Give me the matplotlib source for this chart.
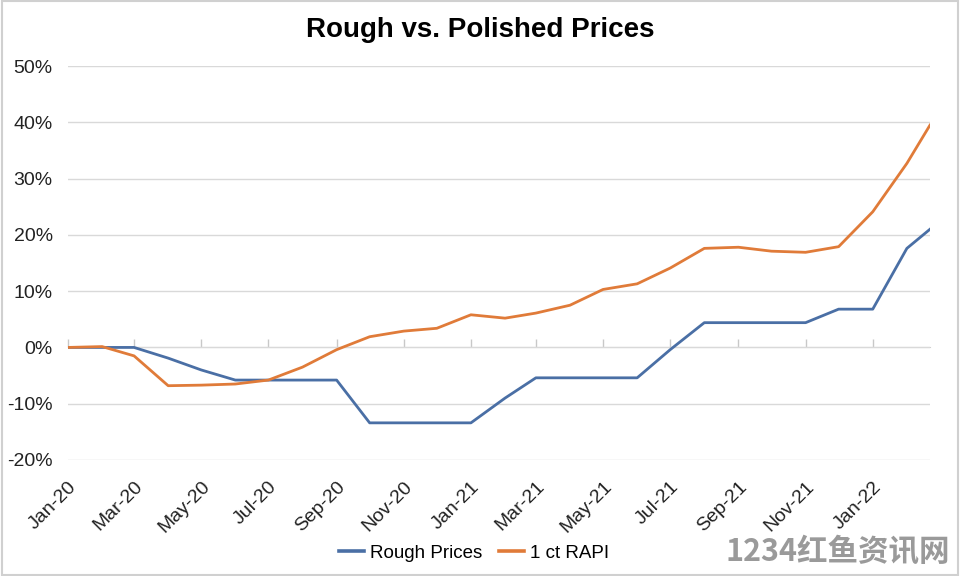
import matplotlib.pyplot as plt
import matplotlib.dates as mdates
import pandas as pd
from matplotlib.patches import Rectangle

# monthly dates, the last reading is a mid-month one
dates = pd.to_datetime(
    [f"2020-{m:02d}-01" for m in range(1, 13)]
    + [f"2021-{m:02d}-01" for m in range(1, 13)]
    + ["2022-01-01", "2022-02-01", "2022-02-22"])

rough = [0, 0, 0, -1.9, -4.0, -5.8, -5.8, -5.8, -5.8, -13.4, -13.4, -13.4,
         -13.4, -9.0, -5.4, -5.4, -5.4, -5.4, -0.4, 4.4, 4.4, 4.4, 4.4, 6.8,
         6.8, 17.6, 21.0]
rapi = [0, 0.15, -1.5, -6.8, -6.7, -6.5, -5.8, -3.5, -0.4, 1.9, 2.9, 3.4,
        5.8, 5.2, 6.1, 7.5, 10.3, 11.3, 14.1, 17.6, 17.8, 17.1, 16.9, 17.9,
        24.1, 32.7, 39.5]

tick_dates = pd.date_range("2020-01-01", "2022-01-01", freq="2MS")
yticks = [-20, -10, 0, 10, 20, 30, 40, 50]

plt.rcParams['font.family'] = ['Liberation Sans', 'DejaVu Sans']

fig = plt.figure(figsize=(9.6, 5.76), dpi=100)
ax = fig.add_axes([68/960, 1-460/576, (930-68)/960, (460-66)/576])

ax.plot(dates, rough, color='#4a6fa5', linewidth=2.0, label='Rough Prices', zorder=3)
ax.plot(dates, rapi, color='#e07b39', linewidth=2.0, label='1 ct RAPI', zorder=3)

ax.set_xlim(dates[0], dates[-1])
ax.set_ylim(-20, 50)
ax.set_yticks(yticks)
ax.set_yticklabels([f"{v}%" for v in yticks], fontsize=14, color='#222222')
ax.yaxis.grid(True, color='#d9d9d9', linewidth=1)
ax.set_axisbelow(True)
ax.tick_params(axis='y', length=0, pad=11)

ax.set_xticks(tick_dates)
ax.xaxis.set_major_formatter(mdates.DateFormatter('%b-%y'))
ax.tick_params(axis='x', length=0, pad=13)
for lbl in ax.get_xticklabels():
    lbl.set_rotation(45)
    lbl.set_ha('right')
    lbl.set_va('top')
    lbl.set_rotation_mode('anchor')
    lbl.set_fontsize(14)
    lbl.set_color('#222222')

for s in ax.spines.values():
    s.set_visible(False)

# category axis crossing at 0% with small tick marks
sec = ax.secondary_xaxis(20/70)
sec.set_xticks(tick_dates)
sec.set_xticklabels([])
sec.tick_params(direction='in', length=6, color='#c8c8c8', width=1)
sec.spines['bottom'].set_color('#d0d0d0')

fig.text(0.5, 1-30/576, "Rough vs. Polished Prices", ha='center', va='center',
         fontsize=20, fontweight='bold')

leg = fig.legend(loc='center', bbox_to_anchor=(474/960, 1-553/576), ncol=2,
                 frameon=False, fontsize=13.5, handlelength=1.35, columnspacing=0.9,
                 handletextpad=0.3)
for h in leg.get_lines():
    h.set_linewidth(2.6)

fig.text(950/960, 1-552/576, "1234红鱼资讯网", ha='right', va='center',
         fontsize=22, fontweight='bold', color='#9a9a9a',
         family=['Noto Sans CJK SC', 'DejaVu Sans'])

fig.patches.append(Rectangle((0.002, 0.002), 0.996, 0.996, transform=fig.transFigure,
                             fill=False, edgecolor='#d0d0d0', linewidth=1.5))

fig.savefig('out.png', dpi=100)
